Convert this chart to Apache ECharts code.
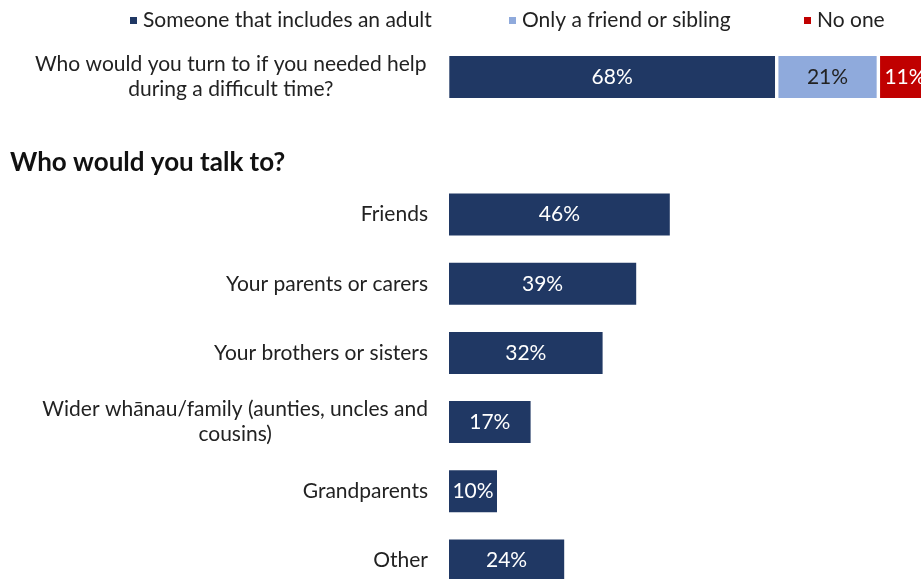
<!DOCTYPE html>
<html>
<head>
<meta charset="utf-8">
<script src="https://cdn.jsdelivr.net/npm/echarts@6/dist/echarts.min.js"></script>
<style>
  html, body { margin: 0; padding: 0; background: #ffffff; overflow: hidden; }
  /* the drawing surface runs past the window so the bars can continue off the right and bottom edges */
  #chart { width: 960px; height: 620px; }
</style>
</head>
<body>
<div id="chart"></div>
<script>
// Survey responses: who young people would turn to for help
const legendNames = ['Someone that includes an adult', 'Only a friend or sibling', 'No one'];
const helpQuestion = ['Who would you turn to if you needed help\nduring a difficult time?'];
const helpShares = [68, 21, 11];

const sectionTitle = 'Who would you talk to?';
const talkCategories = [
  'Friends',
  'Your parents or carers',
  'Your brothers or sisters',
  'Wider whānau/family (aunties, uncles and\ncousins)',
  'Grandparents',
  'Other'
];
const talkShares = [46, 39, 32, 17, 10, 24];

const FONT = 'Lato';
const FONT_SIZE = 21;
const TEXT = '#222222';
const COLORS = ['#203864', '#8faadc', '#c00000'];
const LABEL_COLORS = ['#ffffff', '#222222', '#ffffff'];

// Multi-line category labels are centred line by line, the block sits right-aligned
function centredLabel(value) {
  return value.split('\n').map(line => '{c|' + line + '}').join('\n');
}
const axisLabelStyle = {
  margin: 21,
  fontFamily: FONT,
  fontSize: FONT_SIZE,
  color: TEXT,
  formatter: centredLabel,
  rich: { c: { align: 'center', fontFamily: FONT, fontSize: FONT_SIZE, color: TEXT, lineHeight: 25 } }
};
const hiddenAxisParts = {
  axisLine: { show: false },
  axisTick: { show: false },
  splitLine: { show: false }
};

const chart = echarts.init(document.getElementById('chart'), null, { renderer: 'canvas' });

const legendLefts = [128, 507, 802];

const option = {
  animation: false,
  backgroundColor: '#ffffff',
  textStyle: { fontFamily: FONT },
  title: {
    text: sectionTitle,
    left: 10,
    top: 150,
    padding: 0,
    textStyle: { fontFamily: FONT, fontSize: 26, fontWeight: 'bold', color: '#111111' }
  },
  legend: legendNames.map((name, i) => ({
    data: [name],
    left: legendLefts[i],
    top: 10,
    padding: 0,
    icon: 'rect',
    itemWidth: 9,
    itemHeight: 9,
    itemGap: 5,
    selectedMode: false,
    textStyle: { fontFamily: FONT, fontSize: FONT_SIZE, color: TEXT }
  })),
  grid: [
    { left: 447.6, width: 484, top: 54.3, height: 45.4, containLabel: false },
    { left: 449, width: 480, top: 180, height: 415, containLabel: false }
  ],
  xAxis: [
    { gridIndex: 0, type: 'value', min: 0, max: 100, show: false },
    { gridIndex: 1, type: 'value', min: 0, max: 100, show: false }
  ],
  yAxis: [
    Object.assign({ gridIndex: 0, type: 'category', data: helpQuestion, axisLabel: axisLabelStyle }, hiddenAxisParts),
    Object.assign({ gridIndex: 1, type: 'category', data: talkCategories, inverse: true, axisLabel: axisLabelStyle }, hiddenAxisParts)
  ],
  series: legendNames.map((name, i) => ({
    name: name,
    type: 'bar',
    stack: 'help',
    xAxisIndex: 0,
    yAxisIndex: 0,
    barWidth: 45.4,
    data: [helpShares[i]],
    itemStyle: { color: COLORS[i], borderColor: '#ffffff', borderWidth: 1.7 },
    label: {
      show: true,
      position: 'inside',
      formatter: '{c}%',
      fontFamily: FONT,
      fontSize: FONT_SIZE,
      color: LABEL_COLORS[i]
    }
  })).concat([{
    name: 'talk',
    type: 'bar',
    xAxisIndex: 1,
    yAxisIndex: 1,
    barWidth: 42,
    data: talkShares,
    itemStyle: { color: COLORS[0] },
    label: {
      show: true,
      position: 'inside',
      formatter: '{c}%',
      fontFamily: FONT,
      fontSize: FONT_SIZE,
      color: '#ffffff'
    }
  }])
};

chart.setOption(option);
</script>
</body>
</html>
